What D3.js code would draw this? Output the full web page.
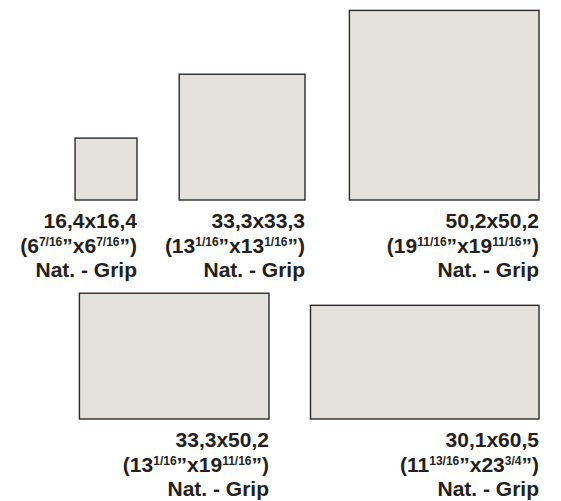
<!DOCTYPE html>
<html><head><meta charset="utf-8">
<script src="https://cdn.jsdelivr.net/npm/d3@7/dist/d3.min.js"></script>
<style>
html,body{margin:0;padding:0;background:#fff;}
svg{display:block;}
text{font-family:"Liberation Sans",Arial,Helvetica,sans-serif;font-weight:bold;fill:#231f20;}
</style></head>
<body>
<script>
// Data
const sizeLabels = ["16,4x16,4", "33,3x33,3", "50,2x50,2", "33,3x50,2", "30,1x60,5"];
const heightCm = [16.4, 33.3, 50.2, 33.3, 30.1];
const widthCm  = [16.4, 33.3, 50.2, 50.2, 60.5];
const inchH = [["6","7/16"], ["13","1/16"], ["19","11/16"], ["13","1/16"], ["11","13/16"]];
const inchW = [["6","7/16"], ["13","1/16"], ["19","11/16"], ["19","11/16"], ["23","3/4"]];
const finishLabel = "Nat. - Grip";

// Layout (anchor = bottom-right corner of each tile)
const anchors = [[137,200],[305,200],[539,200],[269,419],[539,419]];

const W = 561, H = 501;
const svg = d3.select("body").append("svg").attr("width", W).attr("height", H);

const s = d3.scaleLinear().domain([0, 60.5]).range([0, 228.5]);

const tiles = sizeLabels.map((l, i) => ({label: l, h: heightCm[i], w: widthCm[i], ih: inchH[i], iw: inchW[i], ax: anchors[i][0], ay: anchors[i][1]}));

const g = svg.selectAll("g.tile").data(tiles).enter().append("g").attr("class", "tile");

g.append("rect")
  .attr("x", d => d.ax - s(d.w))
  .attr("y", d => d.ay - s(d.h))
  .attr("width", d => s(d.w))
  .attr("height", d => s(d.h))
  .attr("fill", "#e5e1dd")
  .attr("stroke", "#2b2b2b")
  .attr("stroke-width", 1.4);

const fs = 21;
g.append("text")
  .attr("x", d => d.ax).attr("y", d => d.ay + 28)
  .attr("text-anchor", "end").attr("font-size", fs)
  .text(d => d.label);

const t2 = g.append("text")
  .attr("x", d => d.ax).attr("y", d => d.ay + 53)
  .attr("text-anchor", "end").attr("font-size", fs);
t2.each(function(d) {
  const t = d3.select(this);
  t.append("tspan").text("(" + d.ih[0]);
  t.append("tspan").attr("font-size", 12).attr("dy", -7).text(d.ih[1]);
  t.append("tspan").attr("dy", 7).text("\u201Dx" + d.iw[0]);
  t.append("tspan").attr("font-size", 12).attr("dy", -7).text(d.iw[1]);
  t.append("tspan").attr("dy", 7).text("\u201D)");
});

g.append("text")
  .attr("x", d => d.ax).attr("y", d => d.ay + 77)
  .attr("text-anchor", "end").attr("font-size", fs)
  .text(finishLabel);
</script>
</body></html>
